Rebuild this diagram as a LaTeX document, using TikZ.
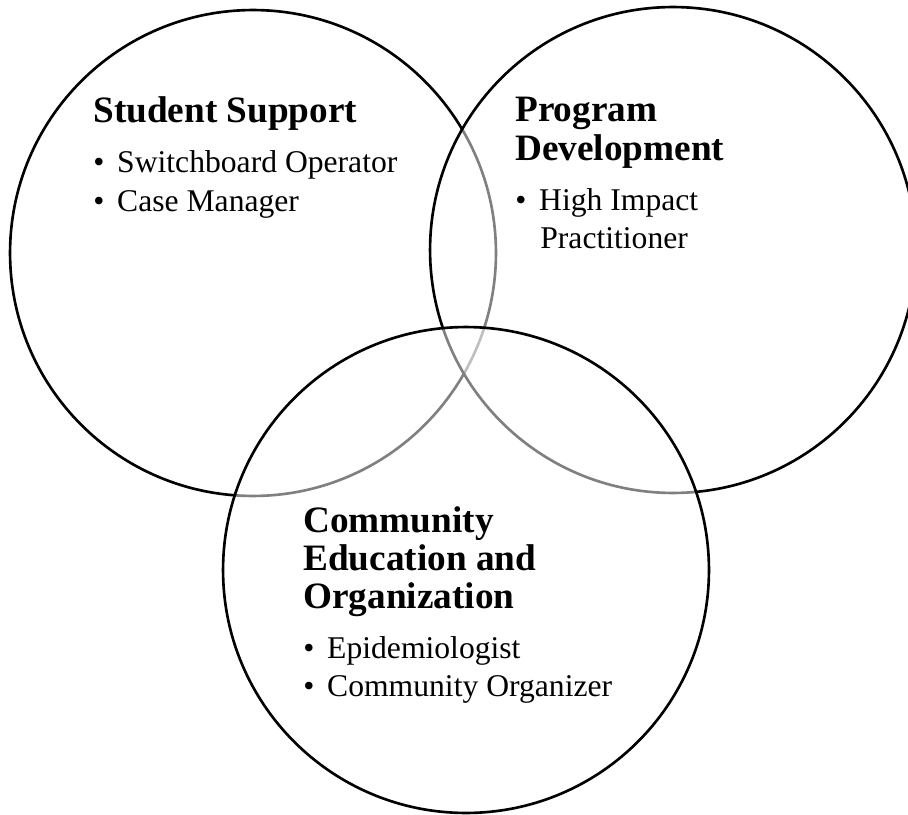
\documentclass[tikz,border=0pt]{standalone}
\usepackage{fontspec}
\setmainfont{Liberation Serif}
\tikzset{
  venn/.style={circle, draw=black, line width=1.5pt, fill=white, fill opacity=0.5, minimum size=9.72cm, inner sep=0pt},
  head/.style={anchor=base west, inner sep=0pt, font=\fontsize{21.2}{22}\selectfont\bfseries},
  entry/.style={anchor=base west, inner sep=0pt, font=\fontsize{18}{22}\selectfont}
}
\newcommand{\dotmark}{\makebox[13.6pt][l]{\textbullet}}

\begin{document}
\begin{tikzpicture}[x=0.02cm, y=-0.02cm]
\clip (0,0) rectangle (908,814);
%%% draws circles
\node[venn] (student) at (253,253) {};
\node[venn] (program) at (673,250) {};
\node[venn] (community) at (466,570) {};
%%% Student Support
\node[head] (studhead) at (93,123) {Student Support};
\node[entry] (switch) at (93,173) {\dotmark Switchboard Operator};
\node[entry] (casemgr) at (93,211) {\dotmark Case Manager};
%%% Program Development
\node[head] (proghead) at (515,122) {Program};
\node[head] (proghead2) at (515,160) {Development};
\node[entry] (highimp) at (515,210) {\dotmark High Impact};
\node[entry] (highimp2) at (540,248) {Practitioner};
%%% Community Education and Organization
\node[head] (commhead) at (303,532) {Community};
\node[head] (commhead2) at (303,570) {Education and};
\node[head] (commhead3) at (303,608) {Organization};
\node[entry] (epid) at (303,658) {\dotmark Epidemiologist};
\node[entry] (organizer) at (303,696) {\dotmark Community Organizer};
\end{tikzpicture}
\end{document}
